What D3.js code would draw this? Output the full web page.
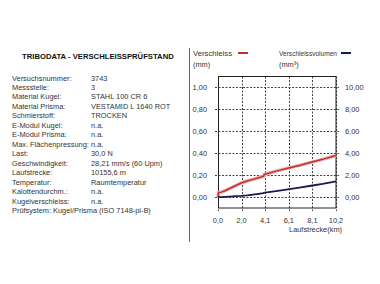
<!DOCTYPE html>
<html>
<head>
<meta charset="utf-8">
<script src="https://cdn.jsdelivr.net/npm/d3@7"></script>
<style>
  body { margin: 0; background: #fff; }
  text { font-family: "Liberation Sans", Arial, sans-serif; fill: #333; }
</style>
</head>
<body>
<div id="place"></div>
<script>
// Stammdaten links
const labels = ["Versuchsnummer:", "Messstelle:", "Material Kugel:", "Material Prisma:", "Schmierstoff:",
  "E-Modul Kugel:", "E-Modul Prisma:", "Max. Flächenpressung:", "Last:", "Geschwindigkeit:",
  "Laufstrecke:", "Temperatur:", "Kalottendurchm.:", "Kugelverschleiss:"];
const values = ["3743", "3", "STAHL 100 CR 6", "VESTAMID L 1640 ROT", "TROCKEN",
  "n.a.", "n.a.", "n.a.", "30,0 N", "28,21 mm/s  (60 Upm)",
  "10155,6 m", "Raumtemperatur", "n.a.", "n.a."];
const pruefsystem = "Prüfsystem: Kugel/Prisma (ISO 7148-pl-B)";

// Messkurven
const km = [0, 0.05, 0.3, 0.6, 1.0, 1.5, 2.0, 2.5, 3.0, 3.5, 3.9, 4.0, 4.2, 5.0, 6.0, 7.0, 8.0, 9.0, 10.1556];
const verschleiss = [0, 0.045, 0.047, 0.06, 0.08, 0.105, 0.13, 0.148, 0.163, 0.178, 0.19, 0.21, 0.214, 0.238, 0.265, 0.29, 0.318, 0.345, 0.38];
const volumen = [0, 0.01, 0.02, 0.04, 0.07, 0.1, 0.13, 0.18, 0.25, 0.32, 0.38, 0.42, 0.45, 0.57, 0.72, 0.88, 1.05, 1.22, 1.45];
const xTicks = [0, 1, 2, 3, 4, 5].map(i => i * 10.1556 / 5);
const yTicks = [0, 0.2, 0.4, 0.6, 0.8, 1.0];

const fs = 7.4;
const svg = d3.select("#place").append("svg")
  .attr("width", 380).attr("height", 284);

// linke Tabelle
svg.append("text").attr("x", 22).attr("y", 59)
  .attr("font-size", 7.7).attr("font-weight", "bold")
  .style("fill", "#111")
  .text("TRIBODATA - VERSCHLEISSPRÜFSTAND");

const rowY = d3.scaleLinear().domain([0, 14]).range([80.5, 213]);
labels.forEach((l, i) => {
  svg.append("text").attr("x", 12).attr("y", rowY(i)).attr("font-size", fs).text(l);
  svg.append("text").attr("x", 91).attr("y", rowY(i)).attr("font-size", fs).text(values[i]);
});
svg.append("text").attr("x", 12).attr("y", rowY(14)).attr("font-size", fs).text(pruefsystem);

// Trennlinie
svg.append("line").attr("x1", 189.5).attr("x2", 189.5).attr("y1", 48).attr("y2", 242)
  .attr("stroke", "#666").attr("stroke-width", 1);

// Legende
svg.append("text").attr("x", 193).attr("y", 55.5).attr("font-size", fs)
  .attr("textLength", 39).attr("lengthAdjust", "spacingAndGlyphs").text("Verschleiss");
svg.append("line").attr("x1", 238).attr("x2", 248).attr("y1", 53).attr("y2", 53)
  .attr("stroke", "#c0302c").attr("stroke-width", 2);
svg.append("text").attr("x", 193).attr("y", 67).attr("font-size", fs).text("(mm)");
svg.append("text").attr("x", 279).attr("y", 55.5).attr("font-size", fs)
  .attr("textLength", 58).attr("lengthAdjust", "spacingAndGlyphs").text("Verschleissvolumen");
svg.append("line").attr("x1", 341).attr("x2", 351).attr("y1", 53).attr("y2", 53)
  .attr("stroke", "#1a1a50").attr("stroke-width", 2);
svg.append("text").attr("x", 279).attr("y", 67).attr("font-size", fs).text("(mm³)");

// Diagramm
const x = d3.scaleLinear().domain([0, 10.1556]).range([218, 336]);
const y = d3.scaleLinear().domain([-0.1, 1.1]).range([208.3, 76.3]);
const y2 = d3.scaleLinear().domain([-1, 11]).range([208.3, 76.3]);

const grid = svg.append("g");
grid.selectAll(".hg").data(yTicks).join("line")
  .attr("x1", 215).attr("x2", 339)
  .attr("y1", d => Math.round(y(d)) + 0.5).attr("y2", d => Math.round(y(d)) + 0.5)
  .attr("stroke", "#444").attr("stroke-dasharray", "2,1.5");
grid.selectAll(".vg").data(xTicks).join("line")
  .attr("x1", d => Math.round(x(d)) + 0.5).attr("x2", d => Math.round(x(d)) + 0.5)
  .attr("y1", 76.5).attr("y2", 211)
  .attr("stroke", "#444").attr("stroke-dasharray", "2,1.5");

svg.append("rect").attr("x", 218.5).attr("y", 76.5).attr("width", 117.5).attr("height", 131.5)
  .attr("fill", "none").attr("stroke", "#222").attr("stroke-width", 1);

svg.append("g").selectAll("text").data(yTicks).join("text")
  .attr("x", 207).attr("y", d => y(d) + 3).attr("text-anchor", "end").attr("font-size", fs)
  .text(d => d3.format(".2f")(d).replace(".", ","));
svg.append("g").selectAll("text").data(yTicks).join("text")
  .attr("x", 345).attr("y", d => y(d) + 3).attr("font-size", fs)
  .text(d => d3.format(".2f")(d * 10).replace(".", ","));
svg.append("g").selectAll("text").data(xTicks).join("text")
  .attr("x", d => x(d)).attr("y", 223).attr("text-anchor", "middle").attr("font-size", fs)
  .text(d => d3.format(".1f")(d).replace(".", ","));
svg.append("text").attr("x", 342).attr("y", 232).attr("text-anchor", "end").attr("font-size", fs)
  .text("Laufstrecke(km)");

const pts = km.map((k, i) => ({ k: k, v: verschleiss[i], w: volumen[i] }));
svg.append("path").datum(pts)
  .attr("d", d3.line().x(d => x(d.k)).y(d => y(d.v)))
  .attr("fill", "none").attr("stroke", "#f0b0b0").attr("stroke-width", 3.5);
svg.append("path").datum(pts)
  .attr("d", d3.line().x(d => x(d.k)).y(d => y(d.v)))
  .attr("fill", "none").attr("stroke", "#c0302c").attr("stroke-width", 1.5);
svg.append("path").datum(pts)
  .attr("d", d3.line().x(d => x(d.k)).y(d => y2(d.w)))
  .attr("fill", "none").attr("stroke", "#1a1a50").attr("stroke-width", 1.8);
</script>
</body>
</html>
